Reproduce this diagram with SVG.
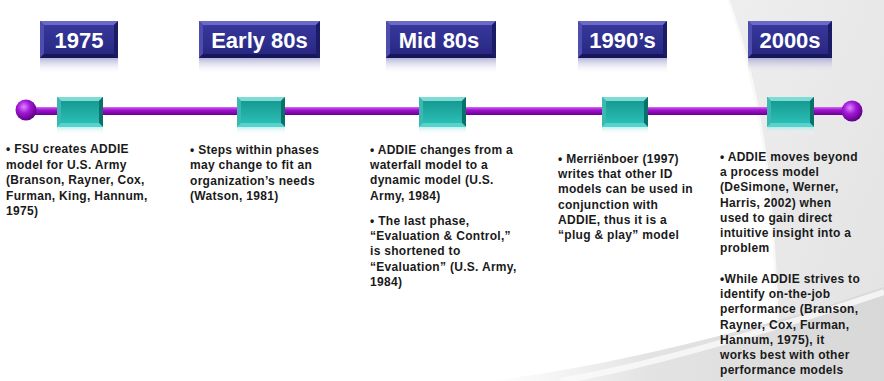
<svg xmlns="http://www.w3.org/2000/svg" width="884" height="381" viewBox="0 0 884 381">
  <defs>
    <linearGradient id="bgGray" x1="0" y1="0" x2="1" y2="1">
      <stop offset="0" stop-color="#eeeeee"/>
      <stop offset="1" stop-color="#e2e2e2"/>
    </linearGradient>
    <linearGradient id="swoosh" x1="0" y1="0" x2="1" y2="0">
      <stop offset="0" stop-color="#e4e4e4" stop-opacity="0"/>
      <stop offset="0.4" stop-color="#e0e0e0" stop-opacity="0.9"/>
      <stop offset="1" stop-color="#d8d8d8"/>
    </linearGradient>
    <linearGradient id="lineGrad" x1="0" y1="0" x2="0" y2="1">
      <stop offset="0" stop-color="#d36ef2"/>
      <stop offset="0.35" stop-color="#a414d4"/>
      <stop offset="1" stop-color="#68008f"/>
    </linearGradient>
    <radialGradient id="ballGrad" cx="0.4" cy="0.35" r="0.65">
      <stop offset="0" stop-color="#dd88ff"/>
      <stop offset="0.45" stop-color="#a318d8"/>
      <stop offset="1" stop-color="#5e0085"/>
    </radialGradient>
    <linearGradient id="faceBlue" x1="0" y1="0" x2="0" y2="1">
      <stop offset="0" stop-color="#3a3aa0"/>
      <stop offset="1" stop-color="#26267f"/>
    </linearGradient>
    <linearGradient id="reflBlue" x1="0" y1="0" x2="0" y2="1">
      <stop offset="0" stop-color="#9c9ccc" stop-opacity="0.75"/>
      <stop offset="1" stop-color="#ffffff" stop-opacity="0"/>
    </linearGradient>
    <linearGradient id="faceTeal" x1="0" y1="0" x2="0" y2="1">
      <stop offset="0" stop-color="#12948d"/>
      <stop offset="1" stop-color="#2fc4ba"/>
    </linearGradient>
    <linearGradient id="reflTeal" x1="0" y1="0" x2="0" y2="1">
      <stop offset="0" stop-color="#9ee8e4" stop-opacity="0.6"/>
      <stop offset="1" stop-color="#ffffff" stop-opacity="0"/>
    </linearGradient>
  </defs>
  <style>
    .yb-top { fill: #6a6ac6; }
    .yb-left { fill: #4d4daf; }
    .yb-right { fill: #1c1c66; }
    .yb-bot { fill: #16165a; }
    .yb-face { fill: url(#faceBlue); }
    .yb-refl { fill: url(#reflBlue); }
    .yb-text { font-family: "Liberation Sans", Arial, sans-serif; font-weight: bold; font-size: 22px; fill: #ffffff; text-anchor: middle; }
    .tm-top { fill: #7fdcd4; }
    .tm-left { fill: #3bb9b1; }
    .tm-right { fill: #0b6f6a; }
    .tm-bot { fill: #56d3cb; }
    .tm-face { fill: url(#faceTeal); }
    .tm-refl { fill: url(#reflTeal); }
    .desc { font-family: "Liberation Sans", Arial, sans-serif; font-weight: bold; font-size: 12px; letter-spacing: 0.3px; fill: #1a1a1a; }
  </style>

  <!-- background -->
  <rect x="0" y="0" width="884" height="381" fill="#ffffff"/>
  <path d="M727 0 C745 50 762 120 769 200 C774 260 777 320 779 381 L884 381 L884 0 Z" fill="url(#bgGray)"/>
  <path d="M727 0 C745 50 762 120 769 200 C774 260 777 320 779 381" fill="none" stroke="#ffffff" stroke-width="5" stroke-opacity="0.7"/>
  <path d="M490 381 C600 368 760 330 884 287 L884 381 Z" fill="url(#swoosh)"/>
  <path d="M560 381 C650 366 770 330 884 292" fill="none" stroke="#fafafa" stroke-width="6" stroke-opacity="0.8"/>

  <!-- connectors: timeline -->
  <g id="connectors">
    <rect x="26" y="107" width="826" height="8" fill="url(#lineGrad)"/>
    <circle cx="26" cy="110" r="10.5" fill="url(#ballGrad)"/>
    <circle cx="852" cy="111" r="10.5" fill="url(#ballGrad)"/>
  </g>

  <!-- 1975 -->
  <g id="node-1975">
    <rect class="yb-refl" x="40" y="58" width="78" height="16"/>
    <rect class="yb-face" x="40" y="21" width="78" height="37"/>
    <polygon class="yb-top" points="40,21 118,21 114,25 44,25"/>
    <polygon class="yb-left" points="40,21 44,25 44,54 40,58"/>
    <polygon class="yb-right" points="118,21 114,25 114,54 118,58"/>
    <polygon class="yb-bot" points="40,58 118,58 114,54 44,54"/>
    <text class="yb-text" x="79" y="48">1975</text>
    <rect class="tm-refl" x="57" y="127" width="46" height="8"/>
    <rect class="tm-face" x="57" y="97" width="46" height="30"/>
    <polygon class="tm-top" points="57,97 103,97 99,101 61,101"/>
    <polygon class="tm-left" points="57,97 61,101 61,123 57,127"/>
    <polygon class="tm-right" points="103,97 99,101 99,123 103,127"/>
    <polygon class="tm-bot" points="57,127 103,127 99,123 61,123"/>
    <text class="desc" x="6" y="153">
      <tspan x="6" y="153">• FSU creates  ADDIE</tspan>
      <tspan x="6" y="168.6">model for U.S. Army</tspan>
      <tspan x="6" y="184.2">(Branson, Rayner, Cox,</tspan>
      <tspan x="6" y="199.8">Furman, King, Hannum,</tspan>
      <tspan x="6" y="215.4">1975)</tspan>
    </text>
  </g>

  <!-- Early 80s -->
  <g id="node-early80s">
    <rect class="yb-refl" x="199" y="58" width="121" height="16"/>
    <rect class="yb-face" x="199" y="21" width="121" height="37"/>
    <polygon class="yb-top" points="199,21 320,21 316,25 203,25"/>
    <polygon class="yb-left" points="199,21 203,25 203,54 199,58"/>
    <polygon class="yb-right" points="320,21 316,25 316,54 320,58"/>
    <polygon class="yb-bot" points="199,58 320,58 316,54 203,54"/>
    <text class="yb-text" x="259.5" y="48">Early 80s</text>
    <rect class="tm-refl" x="237" y="127" width="48" height="8"/>
    <rect class="tm-face" x="237" y="97" width="48" height="30"/>
    <polygon class="tm-top" points="237,97 285,97 281,101 241,101"/>
    <polygon class="tm-left" points="237,97 241,101 241,123 237,127"/>
    <polygon class="tm-right" points="285,97 281,101 281,123 285,127"/>
    <polygon class="tm-bot" points="237,127 285,127 281,123 241,123"/>
    <text class="desc" x="190" y="153.5">
      <tspan x="190" y="153.5">• Steps within phases</tspan>
      <tspan x="190" y="169">may change to fit an</tspan>
      <tspan x="190" y="184.5">organization’s needs</tspan>
      <tspan x="190" y="200">(Watson, 1981)</tspan>
    </text>
  </g>

  <!-- Mid 80s -->
  <g id="node-mid80s">
    <rect class="yb-refl" x="386" y="58" width="110" height="16"/>
    <rect class="yb-face" x="386" y="21" width="110" height="37"/>
    <polygon class="yb-top" points="386,21 496,21 492,25 390,25"/>
    <polygon class="yb-left" points="386,21 390,25 390,54 386,58"/>
    <polygon class="yb-right" points="496,21 492,25 492,54 496,58"/>
    <polygon class="yb-bot" points="386,58 496,58 492,54 390,54"/>
    <text class="yb-text" x="439" y="48">Mid 80s</text>
    <rect class="tm-refl" x="419" y="127" width="47" height="8"/>
    <rect class="tm-face" x="419" y="97" width="47" height="30"/>
    <polygon class="tm-top" points="419,97 466,97 462,101 423,101"/>
    <polygon class="tm-left" points="419,97 423,101 423,123 419,127"/>
    <polygon class="tm-right" points="466,97 462,101 462,123 466,127"/>
    <polygon class="tm-bot" points="419,127 466,127 462,123 423,123"/>
    <text class="desc" x="370" y="154">
      <tspan x="370" y="154">• ADDIE  changes from a</tspan>
      <tspan x="370" y="169.2">waterfall model to a</tspan>
      <tspan x="370" y="184.4">dynamic model (U.S.</tspan>
      <tspan x="370" y="199.6">Army, 1984)</tspan>
      <tspan x="370" y="225">• The last phase,</tspan>
      <tspan x="370" y="240.2">“Evaluation &amp; Control,”</tspan>
      <tspan x="370" y="255.4">is shortened to</tspan>
      <tspan x="370" y="270.6">“Evaluation” (U.S. Army,</tspan>
      <tspan x="370" y="285.8">1984)</tspan>
    </text>
  </g>

  <!-- 1990's -->
  <g id="node-1990s">
    <rect class="yb-refl" x="578" y="58" width="89" height="16"/>
    <rect class="yb-face" x="578" y="21" width="89" height="37"/>
    <polygon class="yb-top" points="578,21 667,21 663,25 582,25"/>
    <polygon class="yb-left" points="578,21 582,25 582,54 578,58"/>
    <polygon class="yb-right" points="667,21 663,25 663,54 667,58"/>
    <polygon class="yb-bot" points="578,58 667,58 663,54 582,54"/>
    <text class="yb-text" x="622.5" y="48">1990’s</text>
    <rect class="tm-refl" x="602" y="127" width="46" height="8"/>
    <rect class="tm-face" x="602" y="97" width="46" height="30"/>
    <polygon class="tm-top" points="602,97 648,97 644,101 606,101"/>
    <polygon class="tm-left" points="602,97 606,101 606,123 602,127"/>
    <polygon class="tm-right" points="648,97 644,101 644,123 648,127"/>
    <polygon class="tm-bot" points="602,127 648,127 644,123 606,123"/>
    <text class="desc" x="558" y="163">
      <tspan x="558" y="163">• Merriënboer (1997)</tspan>
      <tspan x="558" y="178.2">writes that other ID</tspan>
      <tspan x="558" y="193.4">models can be used in</tspan>
      <tspan x="558" y="208.6">conjunction with</tspan>
      <tspan x="558" y="223.8">ADDIE, thus it is a</tspan>
      <tspan x="558" y="239">“plug &amp; play” model</tspan>
    </text>
  </g>

  <!-- 2000s -->
  <g id="node-2000s">
    <rect class="yb-refl" x="748" y="58" width="84" height="16"/>
    <rect class="yb-face" x="748" y="21" width="84" height="37"/>
    <polygon class="yb-top" points="748,21 832,21 828,25 752,25"/>
    <polygon class="yb-left" points="748,21 752,25 752,54 748,58"/>
    <polygon class="yb-right" points="832,21 828,25 828,54 832,58"/>
    <polygon class="yb-bot" points="748,58 832,58 828,54 752,54"/>
    <text class="yb-text" x="790" y="48">2000s</text>
    <rect class="tm-refl" x="767" y="127" width="47" height="8"/>
    <rect class="tm-face" x="767" y="97" width="47" height="30"/>
    <polygon class="tm-top" points="767,97 814,97 810,101 771,101"/>
    <polygon class="tm-left" points="767,97 771,101 771,123 767,127"/>
    <polygon class="tm-right" points="814,97 810,101 810,123 814,127"/>
    <polygon class="tm-bot" points="767,127 814,127 810,123 771,123"/>
    <text class="desc" x="720" y="161">
      <tspan x="720" y="161">• ADDIE  moves beyond</tspan>
      <tspan x="720" y="176.2">a process model</tspan>
      <tspan x="720" y="191.4">(DeSimone, Werner,</tspan>
      <tspan x="720" y="206.6">Harris, 2002) when</tspan>
      <tspan x="720" y="221.8">used to gain direct</tspan>
      <tspan x="720" y="237">intuitive insight into a</tspan>
      <tspan x="720" y="252.2">problem</tspan>
      <tspan x="720" y="283">•While ADDIE strives to</tspan>
      <tspan x="720" y="298.2">identify on-the-job</tspan>
      <tspan x="720" y="313.4">performance (Branson,</tspan>
      <tspan x="720" y="328.6">Rayner, Cox, Furman,</tspan>
      <tspan x="720" y="343.8">Hannum, 1975), it</tspan>
      <tspan x="720" y="359">works best with other</tspan>
      <tspan x="720" y="374.2">performance models</tspan>
    </text>
  </g>
</svg>
